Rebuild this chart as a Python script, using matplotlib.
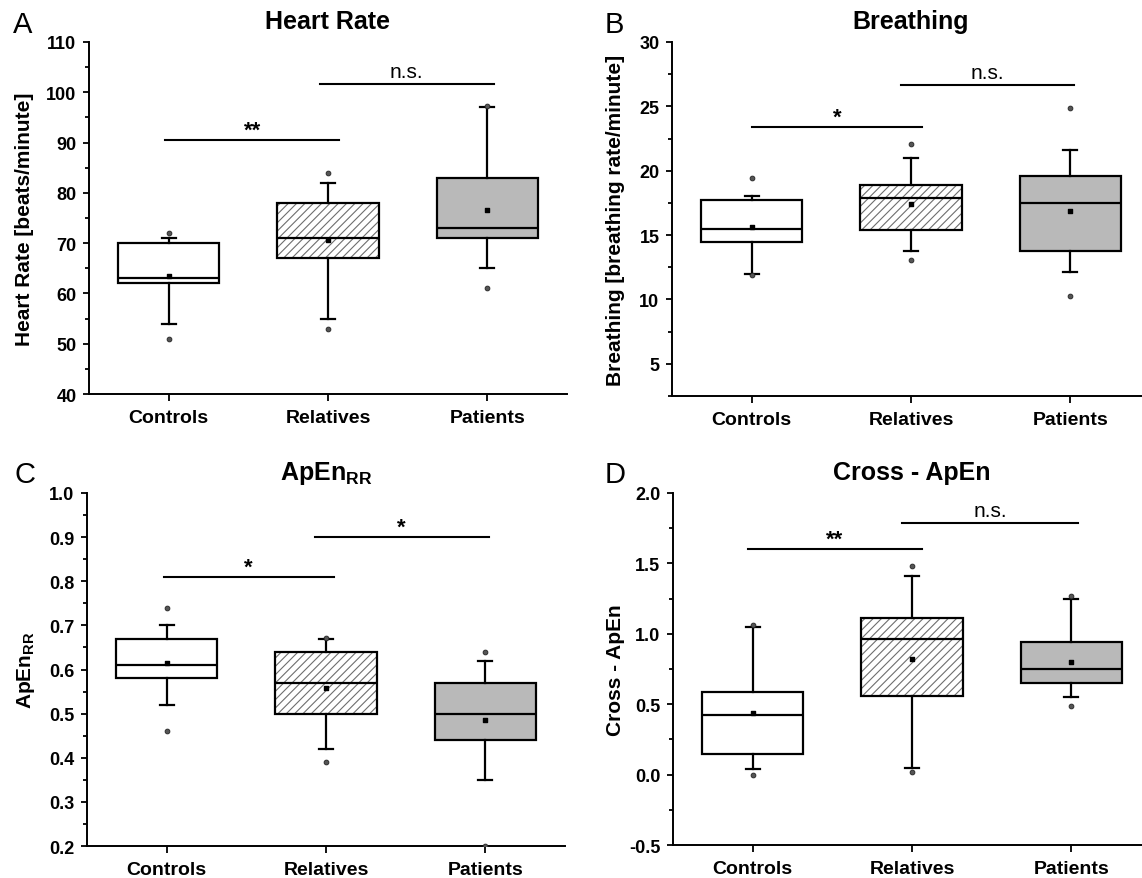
import matplotlib
matplotlib.use("Agg")
import matplotlib.pyplot as plt
from matplotlib.ticker import MultipleLocator

plt.rcParams['font.family'] = ['Liberation Sans', 'DejaVu Sans']
plt.rcParams['mathtext.fontset'] = 'custom'
plt.rcParams['mathtext.rm'] = 'Liberation Sans'
plt.rcParams['mathtext.bf'] = 'Liberation Sans:bold'
plt.rcParams['hatch.linewidth'] = 0.8
plt.rcParams['axes.unicode_minus'] = False

groups = ["Controls", "Relatives", "Patients"]
positions = [1, 2, 3]
box_faces = ["white", "none", "#b9b9b9"]

# A - heart rate
hr_q1 = [62, 67, 71]
hr_med = [63, 71, 73]
hr_q3 = [70, 78, 83]
hr_wlo = [54, 55, 65]
hr_whi = [71, 82, 97]
hr_mean = [63.5, 70.7, 76.6]
hr_min = [51, 53, 61]
hr_max = [72, 84, 97.2]

# B - breathing
br_q1 = [14.45, 15.4, 13.8]
br_med = [15.45, 17.85, 17.5]
br_q3 = [17.75, 18.9, 19.55]
br_wlo = [12.0, 13.8, 12.15]
br_whi = [18.0, 21.0, 21.6]
br_mean = [15.6, 17.4, 16.85]
br_min = [11.9, 13.1, 10.3]
br_max = [19.45, 22.1, 24.9]

# C - ApEn RR
ap_q1 = [0.58, 0.50, 0.44]
ap_med = [0.61, 0.57, 0.50]
ap_q3 = [0.67, 0.64, 0.57]
ap_wlo = [0.52, 0.42, 0.35]
ap_whi = [0.70, 0.67, 0.62]
ap_mean = [0.614, 0.558, 0.486]
ap_min = [0.46, 0.39, 0.20]
ap_max = [0.74, 0.672, 0.64]

# D - cross ApEn
cx_q1 = [0.145, 0.56, 0.65]
cx_med = [0.42, 0.965, 0.75]
cx_q3 = [0.59, 1.11, 0.94]
cx_wlo = [0.04, 0.05, 0.55]
cx_whi = [1.05, 1.41, 1.25]
cx_mean = [0.435, 0.82, 0.80]
cx_min = [0.0, 0.016, 0.49]
cx_max = [1.065, 1.48, 1.265]

# significance bars: (x0, x1, y, label)
hr_sig = [(0.98, 2.07, 90.5, "**"), (1.95, 3.04, 101.6, "n.s.")]
br_sig = [(1.0, 2.07, 23.4, "*"), (1.94, 3.02, 26.65, "n.s.")]
ap_sig = [(0.98, 2.05, 0.81, "*"), (1.93, 3.02, 0.90, "*")]
cx_sig = [(0.97, 2.06, 1.60, "**"), (1.94, 3.04, 1.79, "n.s.")]

fig = plt.figure(figsize=(11.42, 8.79), dpi=100)


def panel(rect, letter, letter_xy, title, ylabel, ylim, major, minor, label_x,
          q1, med, q3, wlo, whi, mean, vmin, vmax, sig):
    ax = fig.add_axes(rect)
    stats = []
    for i in range(3):
        stats.append(dict(q1=q1[i], med=med[i], q3=q3[i], whislo=wlo[i],
                          whishi=whi[i], fliers=[]))
    lw = 1.6
    bp = ax.bxp(stats, positions=positions, widths=0.635, capwidths=0.088,
                patch_artist=True, showfliers=False,
                boxprops=dict(linewidth=lw, edgecolor="black"),
                medianprops=dict(color="black", linewidth=lw),
                whiskerprops=dict(color="black", linewidth=lw),
                capprops=dict(color="black", linewidth=lw))
    for patch, fc in zip(bp["boxes"], box_faces):
        patch.set_facecolor(fc)
    # hatch for relatives
    ax.bar(positions[1], q3[1] - q1[1], bottom=q1[1], width=0.635,
           facecolor="white", hatch="////", edgecolor="#6e6e6e", linewidth=0,
           zorder=1.9)
    ax.scatter(positions, mean, marker="s", s=10, color="black", zorder=5)
    ax.scatter(positions, vmin, marker="o", s=12, facecolor="#555555",
               edgecolor="#222222", linewidth=0.6, zorder=5)
    ax.scatter(positions, vmax, marker="o", s=12, facecolor="#555555",
               edgecolor="#222222", linewidth=0.6, zorder=5)

    for x0, x1, y, lab in sig:
        ax.plot([x0, x1], [y, y], color="black", lw=1.5, clip_on=False)
        if lab == "n.s.":
            ax.annotate(lab, ((x0 + x1) / 2, y), xytext=(0, 5),
                        textcoords="offset points", ha="center",
                        va="baseline", fontsize=15)
        else:
            ax.annotate(lab, ((x0 + x1) / 2, y), xytext=(0, 3),
                        textcoords="offset points", ha="center",
                        va="baseline", fontsize=16, fontweight="bold")

    ax.set_xlim(0.5, 3.5)
    ax.set_ylim(*ylim)
    ax.set_xticks(positions)
    ax.set_xticklabels(groups, fontsize=14, fontweight="bold")
    ax.yaxis.set_major_locator(MultipleLocator(major))
    ax.yaxis.set_minor_locator(MultipleLocator(minor))
    for t in ax.get_yticklabels():
        t.set_fontweight("bold")
    ax.tick_params(axis="y", which="major", direction="out", length=4,
                   width=1.3, labelsize=13, pad=5)
    ax.tick_params(axis="y", which="minor", direction="out", length=3,
                   width=1.3)
    ax.tick_params(axis="x", direction="out", length=5, width=1.3, pad=6)
    ax.spines["top"].set_visible(False)
    ax.spines["right"].set_visible(False)
    ax.spines["left"].set_linewidth(1.4)
    ax.spines["bottom"].set_linewidth(1.4)

    ax.set_title(title, fontsize=18, fontweight="bold", pad=10)
    ax.set_ylabel(ylabel, fontsize=15, fontweight="bold")
    ax.yaxis.set_label_coords(label_x, 0.5)
    fig.text(letter_xy[0], letter_xy[1], letter, fontsize=21,
             ha="center", va="center")
    return ax


panel([0.0779, 0.5506, 0.4186, 0.4005], "A", (23 / 1142, 1 - 25 / 879),
      "Heart Rate", "Heart Rate [beats/minute]", (40, 110), 10, 5, -0.115,
      hr_q1, hr_med, hr_q3, hr_wlo, hr_whi, hr_mean, hr_min, hr_max, hr_sig)
panel([0.5884, 0.5484, 0.4186, 0.4027], "B", (614 / 1142, 1 - 25 / 879),
      "Breathing", "Breathing [breathing rate/minute]", (2.5, 30), 5, 2.5,
      -0.098,
      br_q1, br_med, br_q3, br_wlo, br_whi, br_mean, br_min, br_max, br_sig)
panel([0.0762, 0.0364, 0.4186, 0.4016], "C", (25 / 1142, 1 - 475 / 879),
      r"ApEn$_\mathbf{RR}$", r"ApEn$_\mathbf{RR}$", (0.2, 1.0), 0.1, 0.05,
      -0.105,
      ap_q1, ap_med, ap_q3, ap_wlo, ap_whi, ap_mean, ap_min, ap_max, ap_sig)
panel([0.5893, 0.0375, 0.4186, 0.4005], "D", (615 / 1142, 1 - 475 / 879),
      "Cross - ApEn", "Cross - ApEn", (-0.5, 2.0), 0.5, 0.25, -0.10,
      cx_q1, cx_med, cx_q3, cx_wlo, cx_whi, cx_mean, cx_min, cx_max, cx_sig)

fig.savefig("out.png", dpi=100)
